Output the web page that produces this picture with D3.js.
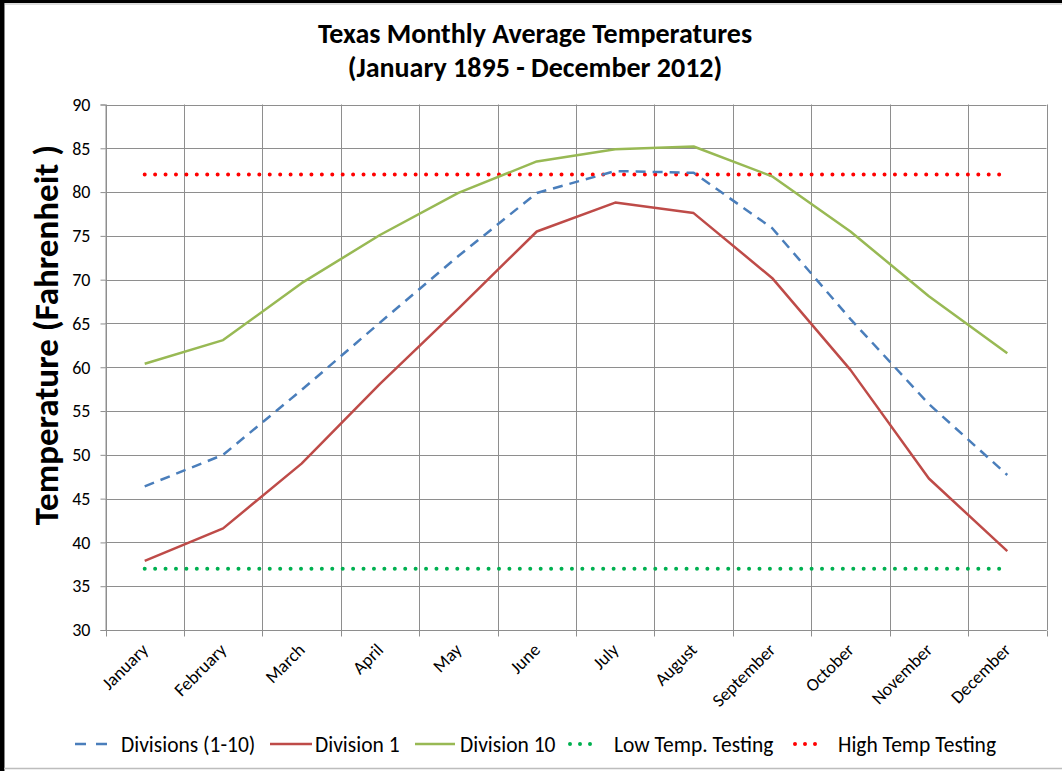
<!DOCTYPE html>
<html>
<head>
<meta charset="utf-8">
<script src="https://cdn.jsdelivr.net/npm/d3@7"></script>
<style>
  html, body { margin: 0; padding: 0; background: #fff; }
  svg { display: block; }
  text { font-family: Carlito, "Liberation Sans Narrow", "Open Sans", sans-serif; fill: #000; }
</style>
</head>
<body>
<svg id="chart" width="1062" height="771"></svg>
<script>
const months = ["January","February","March","April","May","June","July","August","September","October","November","December"];
const divisionsAll = [46.4, 50.0, 57.4, 65.1, 72.7, 79.9, 82.4, 82.2, 75.9, 65.5, 55.8, 47.7];
const division1    = [37.9, 41.6, 49.0, 58.1, 66.7, 75.5, 78.8, 77.6, 70.2, 59.7, 47.3, 39.0];
const division10   = [60.4, 63.1, 69.6, 75.1, 79.9, 83.5, 84.9, 85.2, 81.8, 75.5, 68.1, 61.6];
const lowTemp      = [37, 37, 37, 37, 37, 37, 37, 37, 37, 37, 37, 37];
const highTemp     = [82, 82, 82, 82, 82, 82, 82, 82, 82, 82, 82, 82];
const yTicks = [30, 35, 40, 45, 50, 55, 60, 65, 70, 75, 80, 85, 90];
const seriesNames = ["Divisions (1-10)", "Division 1", "Division 10", "Low Temp. Testing", "High Temp Testing"];

const svg = d3.select("#chart");
const W = 1062, H = 771;
const plot = {left: 105.5, right: 1046.5, top: 104.5, bottom: 630};
const FONT = "Carlito, 'Liberation Sans Narrow', 'Open Sans', sans-serif";

// chart frame
svg.append("line").attr("x1", 0).attr("x2", W).attr("y1", 1.5).attr("y2", 1.5).attr("stroke", "#000").attr("stroke-width", 3);
svg.append("line").attr("x1", 3.5).attr("x2", W).attr("y1", 4).attr("y2", 4).attr("stroke", "#bbb").attr("stroke-width", 1);
svg.append("line").attr("x1", 2).attr("x2", 2).attr("y1", 0).attr("y2", H).attr("stroke", "#000").attr("stroke-width", 4);
svg.append("line").attr("x1", 4.5).attr("x2", 4.5).attr("y1", 3).attr("y2", H).attr("stroke", "#888").attr("stroke-width", 1);
svg.append("line").attr("x1", 4).attr("x2", W).attr("y1", 768.5).attr("y2", 768.5).attr("stroke", "#bdbdbd").attr("stroke-width", 1.5);

const x = d3.scaleBand().domain(months).range([plot.left, plot.right]).padding(0);
const y = d3.scaleLinear().domain([30, 90]).range([plot.bottom, plot.top]);
const cx = m => x(m) + x.bandwidth() / 2;

// grid
const grid = svg.append("g");
grid.selectAll("line.h").data(yTicks).enter().append("line")
  .attr("x1", plot.left).attr("x2", plot.right)
  .attr("y1", d => Math.round(y(d)) + 0.5).attr("y2", d => Math.round(y(d)) + 0.5)
  .attr("stroke", "#8e8e8e").attr("stroke-width", 1);
const bounds = months.map(m => x(m)).concat([plot.right]);
grid.selectAll("line.v").data(bounds).enter().append("line")
  .attr("x1", d => Math.round(d) + 0.5).attr("x2", d => Math.round(d) + 0.5)
  .attr("y1", plot.top).attr("y2", plot.bottom)
  .attr("stroke", "#8e8e8e").attr("stroke-width", 1);

// axes
const yAxis = svg.append("g").attr("transform", `translate(${plot.left},0)`)
  .call(d3.axisLeft(y).tickValues(yTicks).tickSize(5).tickPadding(10));
yAxis.select(".domain").attr("stroke", "#8e8e8e");
yAxis.selectAll(".tick line").attr("stroke", "#8e8e8e");
yAxis.selectAll(".tick text").attr("font-size", 18).style("font-family", FONT).attr("fill", "#000");

const xAxisG = svg.append("g").attr("transform", `translate(0,${Math.round(plot.bottom)+0.5})`);
xAxisG.append("line").attr("x1", plot.left).attr("x2", plot.right).attr("stroke", "#8e8e8e");
xAxisG.selectAll("line.t").data(bounds).enter().append("line")
  .attr("x1", d => Math.round(d) + 0.5).attr("x2", d => Math.round(d) + 0.5)
  .attr("y1", 0).attr("y2", 6).attr("stroke", "#8e8e8e");
xAxisG.selectAll("text").data(months).enter().append("text")
  .attr("transform", d => `translate(${cx(d) + 0},${16}) rotate(-45)`)
  .attr("text-anchor", "end").attr("dy", "0.35em")
  .attr("font-size", 18).text(d => d);

// lines
const line = d3.line().x((d, i) => cx(months[i])).y(d => y(d));
const series = [
  {name: seriesNames[0], data: divisionsAll, color: "#4a7ebb", width: 2.5, dash: "10,7", cap: "butt"},
  {name: seriesNames[1], data: division1, color: "#be4b48", width: 2.5, dash: null, cap: "butt"},
  {name: seriesNames[2], data: division10, color: "#98b954", width: 2.5, dash: null, cap: "butt"},
  {name: seriesNames[3], data: lowTemp, color: "#00b050", width: 4, dash: "0,10.42", cap: "round"},
  {name: seriesNames[4], data: highTemp, color: "#ff0000", width: 4, dash: "0,10.42", cap: "round"}
];
const order = [3, 4, 2, 1, 0];
svg.append("g").selectAll("path").data(order.map(i => series[i])).enter().append("path")
  .attr("d", s => line(s.data))
  .attr("fill", "none")
  .attr("stroke", s => s.color)
  .attr("stroke-width", s => s.width)
  .attr("stroke-dasharray", s => s.dash)
  .attr("stroke-linecap", s => s.cap)
  .attr("stroke-linejoin", "round");

// title
svg.append("text").attr("x", 535).attr("y", 43).attr("text-anchor", "middle")
  .attr("font-size", 28).attr("font-weight", "bold").text("Texas Monthly Average Temperatures");
svg.append("text").attr("x", 535).attr("y", 77).attr("text-anchor", "middle")
  .attr("font-size", 28).attr("font-weight", "bold").text("(January 1895 - December 2012)");

// y label
svg.append("text").attr("transform", `translate(58,335) rotate(-90)`)
  .attr("text-anchor", "middle").attr("font-size", 35).attr("font-weight", "bold")
  .text("Temperature (Fahrenheit )");

// legend
const legX = [[75, 107, 121], [270, 312, 315], [415, 455, 460], [568, 602, 614], [793, 827, 838]];
const ly = 744;
const leg = svg.append("g");
series.forEach((s, i) => {
  const [a, b, t] = legX[i];
  leg.append("line").attr("x1", s.cap === "round" ? a + 2 : a).attr("x2", s.cap === "round" ? b - 2 : b)
    .attr("y1", ly).attr("y2", ly)
    .attr("stroke", s.color).attr("stroke-width", s.width)
    .attr("stroke-dasharray", i === 0 ? "11,10" : (s.dash ? "0,10" : null))
    .attr("stroke-linecap", s.cap);
  leg.append("text").attr("x", t).attr("y", ly).attr("dy", "0.35em").attr("font-size", 21.5).text(s.name);
});
</script>
</body>
</html>
